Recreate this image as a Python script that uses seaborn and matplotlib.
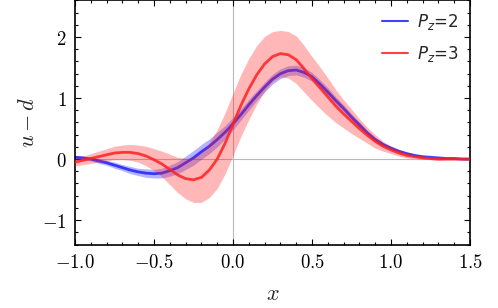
import numpy as np
import pandas as pd
import matplotlib
matplotlib.use("Agg")
import matplotlib.pyplot as plt
import seaborn as sns
from matplotlib.ticker import MultipleLocator, FuncFormatter
from matplotlib.font_manager import FontProperties

# ---- data ----
x_grid = [round(-1.0 + 0.05 * i, 2) for i in range(51)]

pz2_center = [0.03, 0.02, 0.00, -0.03, -0.06, -0.10, -0.14, -0.18, -0.21, -0.23,
              -0.24, -0.23, -0.19, -0.14, -0.06, 0.02, 0.12, 0.21, 0.32, 0.44,
              0.58, 0.73, 0.89, 1.04, 1.18, 1.31, 1.40, 1.45, 1.46, 1.42,
              1.35, 1.23, 1.10, 0.96, 0.83, 0.69, 0.56, 0.43, 0.32, 0.24,
              0.18, 0.13, 0.09, 0.06, 0.04, 0.03, 0.02, 0.01, 0.01, 0.00, 0.00]
pz2_err = [0.03, 0.03, 0.03, 0.04, 0.04, 0.05, 0.05, 0.06, 0.06, 0.07,
           0.07, 0.08, 0.09, 0.10, 0.11, 0.12, 0.12, 0.12, 0.12, 0.11,
           0.10, 0.09, 0.09, 0.08, 0.08, 0.08, 0.08, 0.08, 0.08, 0.08,
           0.07, 0.07, 0.07, 0.06, 0.06, 0.05, 0.05, 0.04, 0.04, 0.03,
           0.03, 0.02, 0.02, 0.02, 0.01, 0.01, 0.01, 0.01, 0.01, 0.01, 0.01]

pz3_center = [-0.05, -0.02, 0.01, 0.04, 0.07, 0.10, 0.11, 0.11, 0.09, 0.05,
              -0.01, -0.08, -0.17, -0.26, -0.32, -0.34, -0.30, -0.18, 0.00, 0.26,
              0.57, 0.88, 1.15, 1.38, 1.56, 1.68, 1.73, 1.71, 1.63, 1.48,
              1.32, 1.17, 1.02, 0.87, 0.74, 0.62, 0.50, 0.39, 0.29, 0.21,
              0.15, 0.10, 0.06, 0.04, 0.02, 0.01, 0.00, 0.00, 0.00, 0.00, 0.00]
pz3_err = [0.06, 0.07, 0.08, 0.09, 0.10, 0.11, 0.12, 0.13, 0.14, 0.16,
           0.18, 0.21, 0.25, 0.29, 0.33, 0.37, 0.41, 0.45, 0.48, 0.50,
           0.51, 0.51, 0.50, 0.48, 0.45, 0.41, 0.38, 0.38, 0.39, 0.38,
           0.36, 0.34, 0.31, 0.27, 0.23, 0.20, 0.16, 0.13, 0.11, 0.08,
           0.06, 0.05, 0.04, 0.03, 0.02, 0.02, 0.02, 0.01, 0.01, 0.01, 0.01]

series_labels = [r"$P_z$=2", r"$P_z$=3"]
x_ticks = [-1.0, -0.5, 0.0, 0.5, 1.0, 1.5]
y_ticks = [-1, 0, 1, 2]

# ---- style ----
sns.set_style("ticks")
plt.rcParams["mathtext.fontset"] = "cm"
plt.rcParams["font.family"] = ["DejaVu Sans"]

blue = "#2020ff"
red = "#ff2020"

fig = plt.figure(figsize=(4.98, 3.08), dpi=100)
ax = fig.add_axes([75 / 498, 1 - 244.5 / 308, 395 / 498, 244 / 308])

df2 = pd.DataFrame({"x": x_grid, "y": pz2_center})
df3 = pd.DataFrame({"x": x_grid, "y": pz3_center})

ax.axhline(0, color="#b8b8b8", lw=0.8, zorder=0)
ax.axvline(0, color="#b8b8b8", lw=0.8, zorder=0)

lo2 = np.array(pz2_center) - np.array(pz2_err)
hi2 = np.array(pz2_center) + np.array(pz2_err)
lo3 = np.array(pz3_center) - np.array(pz3_err)
hi3 = np.array(pz3_center) + np.array(pz3_err)

ax.fill_between(x_grid, lo2, hi2, color=blue, alpha=0.33, lw=0, zorder=1)
sns.lineplot(data=df2, x="x", y="y", ax=ax, color=blue, lw=2.0, alpha=0.85,
             label=series_labels[0], zorder=2)
ax.fill_between(x_grid, lo3, hi3, color=red, alpha=0.32, lw=0, zorder=3)
sns.lineplot(data=df3, x="x", y="y", ax=ax, color=red, lw=2.0, alpha=0.85,
             label=series_labels[1], zorder=4)

ax.set_xlim(-1.0, 1.5)
ax.set_ylim(-1.4, 2.6)
ax.set_xticks(x_ticks)
ax.set_yticks(y_ticks)
ax.xaxis.set_minor_locator(MultipleLocator(0.1))
ax.yaxis.set_minor_locator(MultipleLocator(0.2))


def fmt_x(v, pos):
    return r"$%.1f$" % v


def fmt_y(v, pos):
    return r"$%d$" % round(v)


ax.xaxis.set_major_formatter(FuncFormatter(fmt_x))
ax.yaxis.set_major_formatter(FuncFormatter(fmt_y))
ax.tick_params(which="both", direction="in", top=True, right=True,
               colors="black", width=0.8)
ax.tick_params(which="major", length=4.5, labelsize=13.5, pad=6)
ax.tick_params(which="minor", length=2.5)
for s in ax.spines.values():
    s.set_linewidth(1.2)
    s.set_color("black")

ax.set_xlabel(r"$x$", fontsize=16, labelpad=9)
ax.set_ylabel(r"$u-d$", fontsize=16, labelpad=3)

leg = ax.legend(loc="upper right", frameon=False,
                handlelength=1.6, handletextpad=0.5, labelspacing=0.7,
                borderaxespad=0.3,
                prop=FontProperties(family="DejaVu Sans", size=12,
                                    math_fontfamily="dejavusans"))
for h in leg.get_lines():
    h.set_linewidth(1.5)

fig.savefig("out.png", dpi=100)
